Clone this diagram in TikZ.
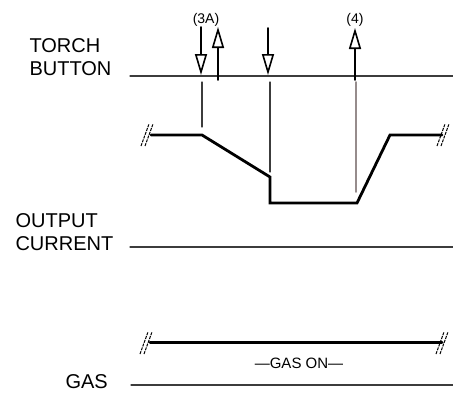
\documentclass[tikz,border=0pt]{standalone}
\usepackage{fontspec}
\setmainfont{Liberation Sans}
\usetikzlibrary{arrows.meta,calc}
\usepackage{tkz-euclide}
\definecolor{TraceClr}{RGB}{0,0,0}
\definecolor{RuleClr}{RGB}{60,60,60}
\definecolor{GreyClr}{RGB}{150,140,140}

\begin{document}
\begin{tikzpicture}[x=1pt,y=-1pt]
\useasboundingbox (0,0) rectangle (453,392);

\tkzDefPoints{130/76/TA,453/76/TB,130/247/OA,453/247/OB,131/385/GA,453/385/GB}

% output current trace
\tkzDefPoints{151/135/C1,202/135/C2,270/177/C3,270/203/C4,357/203/C5,390/135/C6,442/135/C7}
% gas trace
\tkzDefPoints{150/342/S1,442/342/S2}

% button presses
\tkzDefPoints{201/27/PA,201/75/QA,218/80/PB,218/27/QB,268/28/PC,268/75/QC,355/80/PD,355/28/QD}
\tkzDefPoints{202/82/LA,202/127/MA,270/82/LB,270/172/MB,356/82/LC,356/192/MC}

\tkzDrawSegments[line width=1.3pt,color=RuleClr](TA,TB OA,OB GA,GB)

\tkzDrawPolySeg[line width=2.8pt,color=TraceClr,line join=miter](C1,C2,C3,C4,C5,C6,C7)
\tkzDrawSegments[line width=3pt,color=TraceClr](S1,S2)

\tkzDrawSegments[line width=1.2pt,color=RuleClr](LA,MA LB,MB)
\tkzDrawSegments[line width=1.8pt,color=GreyClr](LC,MC)

\tkzDrawSegments[line width=1.6pt,-{Triangle[open,width=12pt,length=21pt,line width=1.6pt]}](PA,QA PB,QB PC,QC PD,QD)

% break marks
\foreach \bx/\by in {141/146,437/146,140/354,436/354}{
  \draw[line width=1pt,dash pattern=on 3pt off 1pt] (\bx,\by) -- ++(8,-22);
  \draw[line width=1pt,dash pattern=on 3pt off 1pt] (\bx+4,\by) -- ++(8,-22);
}

\node[anchor=base west,align=left,font=\fontsize{20}{23}\selectfont] (torch) at (26,75) {TORCH\\BUTTON};
\node[anchor=base west,align=left,font=\fontsize{20}{23}\selectfont] (output) at (12,250) {OUTPUT\\CURRENT};
\node[anchor=base west,font=\fontsize{20}{23}\selectfont] (gas) at (62,388) {GAS};
\node[anchor=base,font=\fontsize{15}{17}\selectfont] (gason) at (299,368) {---GAS ON---};
\node[anchor=base,font=\fontsize{14}{16}\selectfont] (three) at (206,23) {(3A)};
\node[anchor=base,font=\fontsize{14}{16}\selectfont] (four) at (355,23) {(4)};

\end{tikzpicture}
\end{document}
